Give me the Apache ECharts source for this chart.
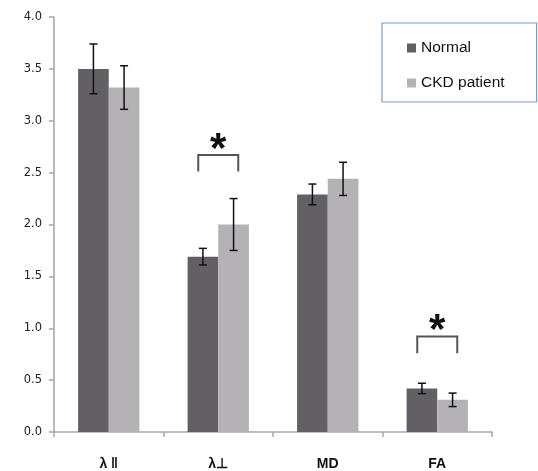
<!DOCTYPE html>
<html>
<head>
<meta charset="utf-8">
<script src="https://cdn.jsdelivr.net/npm/echarts@6/dist/echarts.min.js"></script>
<style>html,body{margin:0;padding:0;background:#fff}#c{width:538px;height:471px}</style>
</head>
<body>
<div id="c"></div>
<script>
var categories = ['λ ‖', 'λ⊥', 'MD', 'FA'];
var seriesNames = ['Normal', 'CKD patient'];
var normalValues = [3.50, 1.69, 2.29, 0.42];
var normalErr = [0.24, 0.08, 0.10, 0.05];
var ckdValues = [3.32, 2.00, 2.44, 0.31];
var ckdErr = [0.21, 0.25, 0.16, 0.065];
var yTicks = [0, 0.5, 1.0, 1.5, 2.0, 2.5, 3.0, 3.5, 4.0];
var sigCategories = [1, 3];
var sigTop = [2.67, 0.92];
var sigLeg = [2.51, 0.76];

var colors = ['#626064', '#b4b2b5'];
var catGap = 0.44;

function errData(vals, errs) {
  return vals.map(function (v, i) { return [i, v - errs[i], v + errs[i]]; });
}

function errRenderer(side) {
  return function (params, api) {
    var i = api.value(0);
    var lo = api.coord([i, api.value(1)]);
    var hi = api.coord([i, api.value(2)]);
    var band = api.size([1, 0])[0];
    var bw = band * (1 - catGap) / 2;
    var x = lo[0] + side * bw / 2;
    var cap = 4;
    var st = { stroke: '#111', lineWidth: 1.5 };
    return {
      type: 'group',
      children: [
        { type: 'line', shape: { x1: x, y1: lo[1], x2: x, y2: hi[1] }, style: st },
        { type: 'line', shape: { x1: x - cap, y1: lo[1], x2: x + cap, y2: lo[1] }, style: st },
        { type: 'line', shape: { x1: x - cap, y1: hi[1], x2: x + cap, y2: hi[1] }, style: st }
      ]
    };
  };
}

var sigData = sigCategories.map(function (c, k) { return [c, sigLeg[k], sigTop[k]]; });

var chart = echarts.init(document.getElementById('c'));
chart.setOption({
  animation: false,
  grid: { left: 54, right: 46, top: 17, bottom: 39 },
  legend: {
    orient: 'vertical',
    left: 382, top: 23,
    padding: [17, 32, 11, 25],
    itemGap: 19,
    borderColor: '#7f9cc4', borderWidth: 1.2,
    icon: 'rect', itemWidth: 9, itemHeight: 9,
    textStyle: { fontFamily: 'Liberation Sans', fontSize: 15.5, color: '#111' },
    data: seriesNames
  },
  xAxis: {
    type: 'category',
    data: categories,
    axisLine: { lineStyle: { color: '#a6a6a6', width: 1.5 } },
    axisTick: { show: true, length: 5, lineStyle: { color: '#a6a6a6', width: 1.5 } },
    axisLabel: { margin: 25, fontFamily: 'Liberation Sans', fontWeight: 'bold', fontSize: 14, color: '#111' }
  },
  yAxis: {
    type: 'value',
    min: 0, max: 4, interval: 0.5,
    axisLine: { show: true, lineStyle: { color: '#a6a6a6', width: 1.5 } },
    axisTick: { show: true, length: 5, lineStyle: { color: '#a6a6a6', width: 1.5 } },
    splitLine: { show: false },
    axisLabel: {
      margin: 12, fontFamily: 'DejaVu Sans', fontSize: 11.5, color: '#222',
      formatter: function (v) { return yTicks.indexOf(v) >= 0 ? v.toFixed(1) : ''; }
    }
  },
  series: [
    { name: seriesNames[0], type: 'bar', data: normalValues, barGap: '0%', barCategoryGap: (catGap * 100) + '%',
      itemStyle: { color: colors[0] } },
    { name: seriesNames[1], type: 'bar', data: ckdValues, barGap: '0%', barCategoryGap: (catGap * 100) + '%',
      itemStyle: { color: colors[1] } },
    { type: 'custom', data: errData(normalValues, normalErr), renderItem: errRenderer(-1), z: 5, silent: true },
    { type: 'custom', data: errData(ckdValues, ckdErr), renderItem: errRenderer(1), z: 5, silent: true },
    { type: 'custom', data: sigData, z: 6, silent: true,
      renderItem: function (params, api) {
        var i = api.value(0);
        var leg = api.coord([i, api.value(1)]);
        var top = api.coord([i, api.value(2)]);
        var half = 20;
        var x = leg[0];
        return {
          type: 'group',
          children: [
            { type: 'polyline', shape: { points: [[x - half, leg[1]], [x - half, top[1]], [x + half, top[1]], [x + half, leg[1]]] },
              style: { stroke: '#555', lineWidth: 2, fill: null } },
            { type: 'text', x: x, y: top[1] - 26,
              style: { text: '*', fontFamily: 'Liberation Sans', fontWeight: 'bold', fontSize: 42, fill: '#111',
                       textAlign: 'center', textVerticalAlign: 'top' } }
          ]
        };
      }
    }
  ]
});
</script>
</body>
</html>
